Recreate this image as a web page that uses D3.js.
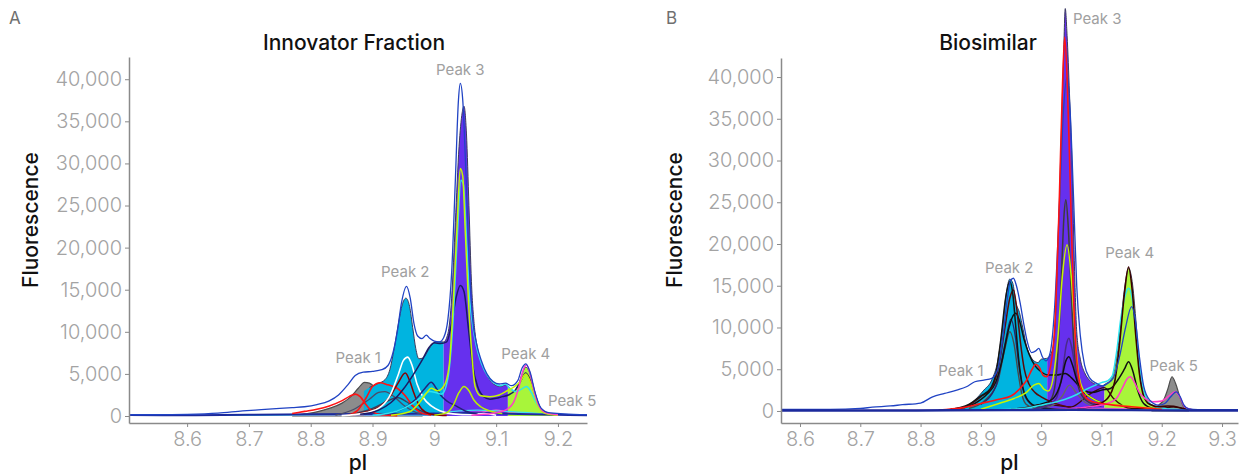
<!DOCTYPE html>
<html>
<head>
<meta charset="utf-8">
<script src="https://cdn.jsdelivr.net/npm/d3@7"></script>
<style>
  body { margin: 0; background: #fff; }
  svg { font-family: "Inter", "Roboto", sans-serif; }
</style>
</head>
<body>
<div id="chart"></div>
<script>
// ---- data: [pI, fluorescence] ----
const yTicks = [0, 5000, 10000, 15000, 20000, 25000, 30000, 35000, 40000];
const aXTicks = [8.6, 8.7, 8.8, 8.9, 9.0, 9.1, 9.2];
const bXTicks = [8.6, 8.7, 8.8, 8.9, 9.0, 9.1, 9.2, 9.3];
const peakNames = ["Peak 1", "Peak 2", "Peak 3", "Peak 4", "Peak 5"];
const aPeakPos = [[8.877, 6770], [8.953, 16990], [9.042, 40980], [9.148, 7250], [9.223, 1660]];
const bPeakPos = [[8.867, 4670], [8.947, 17000], [9.093, 46830], [9.147, 18800], [9.220, 5270]];

// panel A (innovator fraction)
const aFillMain = [[8.86,1200],[8.875,2200],[8.885,2900],[8.895,3400],[8.91,3900],[8.92,4300],[8.928,5500],[8.935,8000],[8.942,11000],[8.948,13200],[8.954,14000],[8.96,13000],[8.965,10500],[8.97,8000],[8.975,6800],[8.982,6900],[8.99,7800],[8.998,8600],[9.006,8800],[9.015,8800],[9.022,9800],[9.028,14000],[9.034,23000],[9.04,32000],[9.045,36000],[9.048,36800],[9.052,33500],[9.056,25000],[9.06,16000],[9.065,10500],[9.07,8000],[9.078,6000],[9.088,4500],[9.098,3700],[9.108,3500],[9.115,3700],[9.12,3500],[9.128,3000],[9.135,3500],[9.141,4800],[9.148,5800],[9.154,5200],[9.16,3600],[9.166,2000],[9.172,900],[9.18,350],[9.19,150],[9.2,80]];
const aFillGray = [[8.77,0],[8.79,250],[8.81,500],[8.83,900],[8.85,1500],[8.865,2300],[8.877,3300],[8.887,4000],[8.895,3900],[8.905,3300],[8.915,2500],[8.93,1500],[8.945,700],[8.96,250],[8.98,50]];
const aBlue = [[8.506,150],[8.55,150],[8.6,200],[8.65,350],[8.69,600],[8.72,750],[8.75,900],[8.77,1000],[8.79,1100],[8.81,1350],[8.83,1800],[8.845,2500],[8.86,3700],[8.872,4800],[8.885,5200],[8.9,5300],[8.915,5500],[8.925,6000],[8.933,7500],[8.94,10000],[8.947,13500],[8.955,15400],[8.961,14000],[8.967,11000],[8.973,9500],[8.98,9200],[8.987,9600],[8.993,9200],[9.0,8900],[9.008,8800],[9.015,9300],[9.022,11500],[9.028,17000],[9.034,28000],[9.039,37500],[9.042,39500],[9.046,37500],[9.051,29000],[9.056,19000],[9.062,11500],[9.068,8700],[9.076,6600],[9.085,5000],[9.095,4100],[9.105,3800],[9.115,3900],[9.125,3600],[9.135,4200],[9.142,5700],[9.148,6200],[9.155,5200],[9.163,2800],[9.172,1000],[9.185,400],[9.21,250],[9.247,150]];
const aWhite = [[8.85,50],[8.89,400],[8.915,1200],[8.93,2700],[8.942,5000],[8.95,6600],[8.957,7000],[8.964,6000],[8.972,3800],[8.982,2200],[8.995,1200],[9.01,600],[9.03,250],[9.06,150],[9.08,300],[9.1,100]];
const aDarkRed = [[8.86,100],[8.89,500],[8.915,1300],[8.93,2500],[8.942,4000],[8.953,5100],[8.96,4200],[8.967,2700],[8.975,1300],[8.985,500],[9.0,150],[9.02,50]];
const aRed1 = [[8.77,300],[8.79,550],[8.81,800],[8.83,1200],[8.85,1800],[8.862,2300],[8.872,2600],[8.88,2300],[8.89,1300],[8.9,500],[8.915,150],[8.94,50]];
const aRed2 = [[8.86,100],[8.875,600],[8.89,2200],[8.9,3500],[8.912,3950],[8.925,3700],[8.94,3300],[8.953,2400],[8.965,1200],[8.978,400],[8.995,100]];
const aSlate1 = [[8.84,100],[8.87,800],[8.895,2000],[8.91,2800],[8.92,2900],[8.935,2300],[8.95,1300],[8.965,600],[8.98,200]];
const aSlate2 = [[8.86,100],[8.9,900],[8.925,1800],[8.94,2200],[8.955,1700],[8.97,900],[8.99,300]];
const aNavy1 = [[8.88,200],[8.91,700],[8.93,1600],[8.95,3200],[8.965,4800],[8.98,6600],[8.992,8200],[9.0,8700],[9.01,8600],[9.02,8800],[9.028,11000],[9.035,14000],[9.042,15500],[9.048,14800],[9.055,10500],[9.062,6000],[9.07,3500],[9.08,2300],[9.09,2000],[9.1,2100],[9.11,2300],[9.12,2500],[9.13,3000],[9.14,4200],[9.148,5100],[9.155,4300],[9.163,2500],[9.172,900],[9.185,300],[9.2,150]];
const aNavy2 = [[8.92,200],[8.95,900],[8.97,2000],[8.985,3300],[8.995,4000],[9.003,3300],[9.01,2500],[9.02,1800],[9.035,1200],[9.05,600],[9.07,200]];
const aLime1 = [[8.93,100],[8.96,500],[8.975,1500],[8.988,2800],[8.995,3300],[9.005,3000],[9.015,3500],[9.024,6000],[9.031,14000],[9.037,23000],[9.042,29400],[9.046,28500],[9.05,22000],[9.055,14000],[9.06,8000],[9.066,3500],[9.075,2400],[9.09,2300],[9.105,2500],[9.118,3000],[9.128,3400],[9.138,4000],[9.148,5000],[9.158,3500],[9.168,1200],[9.18,300],[9.2,100]];
const aLime2 = [[9.0,100],[9.02,400],[9.03,1200],[9.04,2800],[9.048,3500],[9.056,3000],[9.064,1900],[9.075,1100],[9.09,600],[9.11,300]];
const aCyan = [[8.9,100],[8.94,600],[8.965,1500],[8.98,2300],[8.992,2900],[9.002,2800],[9.012,2600],[9.022,4500],[9.03,11000],[9.037,21000],[9.043,28000],[9.047,27500],[9.052,21000],[9.057,14000],[9.062,10800],[9.068,8300],[9.076,6300],[9.086,4800],[9.097,3900],[9.107,3600],[9.115,3800],[9.122,3300],[9.132,2900],[9.141,3200],[9.149,3500],[9.157,2800],[9.166,1400],[9.178,400],[9.2,100]];
const aMagenta = [[9.06,100],[9.08,200],[9.1,400],[9.115,700],[9.128,1600],[9.137,3500],[9.143,5300],[9.149,6100],[9.155,5000],[9.162,2800],[9.17,1100],[9.18,400],[9.2,150]];
const aBaseNavy = [[8.506,120],[8.6,100],[8.7,150],[8.8,200],[8.9,250],[9.0,300],[9.05,350],[9.1,300],[9.2,150],[9.247,100]];
const aBaseCyan = [[8.506,60],[8.7,80],[8.9,150],[9.0,300],[9.04,600],[9.07,700],[9.1,600],[9.13,500],[9.17,300],[9.247,80]];
const aBasePink = [[8.506,80],[8.8,100],[9.0,150],[9.05,400],[9.08,500],[9.1,700],[9.12,500],[9.16,300],[9.247,100]];

// panel B (biosimilar)
const bFillMain = [[8.86,100],[8.875,400],[8.89,1300],[8.905,2500],[8.918,3700],[8.928,6000],[8.936,10000],[8.942,14000],[8.948,15800],[8.953,15300],[8.958,13000],[8.964,11800],[8.97,9800],[8.976,7700],[8.982,6600],[8.988,6000],[8.995,5800],[9.0,6200],[9.009,6300],[9.016,6800],[9.022,9000],[9.028,20000],[9.033,32000],[9.037,42000],[9.04,48200],[9.043,45000],[9.047,38000],[9.051,30000],[9.055,18000],[9.059,9500],[9.065,6200],[9.072,4600],[9.08,3700],[9.09,3200],[9.1,3000],[9.108,3300],[9.115,3700],[9.122,5000],[9.13,9000],[9.138,14500],[9.145,17100],[9.151,15500],[9.157,11000],[9.163,5000],[9.17,2500],[9.178,1200],[9.188,500],[9.2,200]];
const bFillGray = [[9.185,0],[9.195,700],[9.203,1300],[9.21,2600],[9.217,4100],[9.223,3300],[9.23,1700],[9.237,400],[9.245,0]];
const bBlue = [[8.5685,200],[8.65,200],[8.7,300],[8.72,450],[8.75,600],[8.77,750],[8.8,950],[8.82,1700],[8.84,2100],[8.86,2500],[8.876,2900],[8.89,3500],[8.905,3700],[8.918,3900],[8.928,5000],[8.936,8500],[8.944,13500],[8.949,15600],[8.954,15900],[8.959,15000],[8.965,13000],[8.971,10500],[8.977,8300],[8.984,7000],[8.991,7200],[8.996,7500],[9.002,6500],[9.008,6000],[9.015,7000],[9.022,12000],[9.03,24000],[9.037,36000],[9.043,40000],[9.048,36000],[9.054,25000],[9.059,15000],[9.065,9000],[9.072,5500],[9.08,4000],[9.092,3300],[9.102,3000],[9.11,3300],[9.12,4000],[9.13,6500],[9.14,10000],[9.15,12500],[9.156,11000],[9.163,6500],[9.17,3000],[9.18,1300],[9.195,700],[9.205,900],[9.215,1700],[9.224,2300],[9.23,1800],[9.236,800],[9.245,250],[9.26,150],[9.3265,150]];
const bRed = [[8.83,100],[8.87,400],[8.9,900],[8.93,1400],[8.95,1800],[8.965,2700],[8.976,3700],[8.985,5000],[8.991,5600],[8.997,5200],[9.003,4300],[9.009,4100],[9.016,5500],[9.024,12000],[9.03,25000],[9.035,38000],[9.039,44800],[9.043,40000],[9.048,28000],[9.053,15000],[9.058,7000],[9.064,3300],[9.072,1800],[9.085,1100],[9.1,900],[9.12,700],[9.15,500],[9.2,200]];
const bLime = [[8.9,200],[8.93,900],[8.955,1500],[8.975,2200],[8.988,3100],[8.996,3300],[9.005,2600],[9.012,2400],[9.02,4000],[9.028,9000],[9.035,16000],[9.043,19900],[9.05,16000],[9.056,9500],[9.062,4500],[9.07,2500],[9.085,1500],[9.1,1000],[9.13,700],[9.16,500],[9.2,200]];
const bCyan = [[8.9,100],[8.95,200],[8.98,400],[9.0,700],[9.02,1000],[9.04,1400],[9.06,2000],[9.075,2600],[9.09,3100],[9.1,3400],[9.11,3600],[9.118,4200],[9.125,7000],[9.133,11500],[9.14,14000],[9.145,14700],[9.151,13500],[9.158,9000],[9.165,4500],[9.172,2000],[9.182,800],[9.195,400],[9.22,200],[9.26,100]];
const bMagenta = [[9.0,100],[9.05,300],[9.09,600],[9.11,900],[9.125,1500],[9.135,2800],[9.143,3900],[9.148,4100],[9.155,3400],[9.163,2200],[9.172,1500],[9.185,1100],[9.2,1200],[9.212,1800],[9.222,2300],[9.23,1700],[9.238,500],[9.25,150]];
const bBlack1 = [[8.85,200],[8.88,800],[8.9,1800],[8.915,2600],[8.925,4500],[8.933,8500],[8.941,13500],[8.948,15500],[8.953,14000],[8.958,10000],[8.963,6000],[8.969,3000],[8.976,1500],[8.99,600],[9.01,300],[9.04,200]];
const bBrown1 = [[8.85,200],[8.88,700],[8.9,1700],[8.918,2800],[8.93,5500],[8.94,10000],[8.948,13500],[8.954,14500],[8.96,12000],[8.966,8000],[8.972,5000],[8.98,3200],[8.99,2200],[9.0,1700],[9.02,1000],[9.05,400]];
const bBlack2 = [[8.86,200],[8.89,900],[8.91,2000],[8.925,3500],[8.935,6000],[8.945,9500],[8.952,11200],[8.958,11700],[8.964,10800],[8.972,8500],[8.98,6800],[8.99,5400],[9.0,4700],[9.012,4300],[9.025,4300],[9.04,4500],[9.05,4000],[9.06,3200],[9.07,2300],[9.085,1500],[9.1,1000]];
const bGray1 = [[8.88,300],[8.91,1500],[8.928,3500],[8.94,7500],[8.948,9500],[8.955,8000],[8.962,4500],[8.968,2000],[8.975,800],[8.99,300]];
const bNavy1 = [[8.9,800],[8.925,3000],[8.94,8000],[8.95,11000],[8.957,9000],[8.964,5000],[8.972,2000],[8.985,700]];
const bGray3 = [[8.99,300],[9.01,800],[9.02,2000],[9.027,6000],[9.033,15000],[9.038,23500],[9.041,25300],[9.045,22000],[9.05,14000],[9.055,7000],[9.06,3500],[9.068,1800],[9.08,1000],[9.1,600]];
const bPurple3 = [[8.99,300],[9.01,600],[9.025,1500],[9.035,4500],[9.042,8000],[9.046,8700],[9.051,7500],[9.058,4500],[9.065,2600],[9.075,1500],[9.09,800]];
const bBlack3 = [[8.98,400],[9.0,800],[9.02,1500],[9.033,3500],[9.041,6000],[9.046,6500],[9.052,5500],[9.06,3500],[9.07,2500],[9.085,2200],[9.1,2500],[9.115,2700],[9.128,3800],[9.138,5000],[9.145,5900],[9.152,4800],[9.16,2500],[9.17,900],[9.185,300]];
const bGray4 = [[9.0,300],[9.02,700],[9.035,1800],[9.047,3100],[9.058,2200],[9.07,1200],[9.09,500]];
const bBrown4 = [[9.06,300],[9.09,700],[9.11,1500],[9.122,3500],[9.13,8000],[9.138,14000],[9.145,17250],[9.151,14500],[9.157,9000],[9.163,4500],[9.17,1800],[9.18,800],[9.195,500],[9.21,600],[9.22,550],[9.235,300],[9.25,150]];
const bDarkLow = [[8.95,200],[8.98,500],[9.0,800],[9.02,700],[9.05,500],[9.08,2000],[9.095,2600],[9.105,2800],[9.12,1500],[9.15,300],[9.2,300],[9.22,500],[9.24,200]];
const bBaseNavy = [[8.5685,50],[8.7,50],[8.85,80],[8.95,100],[9.05,150],[9.15,100],[9.25,50],[9.3265,50]];
const bBasePink = [[8.5685,60],[8.8,80],[9.0,200],[9.1,300],[9.2,200],[9.3265,60]];

// ---- drawing ----
const W = 1248, H = 474;
const svg = d3.select("#chart").append("svg")
  .attr("width", W).attr("height", H);

const CYAN = "#00b4e0", PURPLE = "#6630ee", LIME = "#a8f53a", GRAY = "#8c8c8c";

function drawPanel(p) {
  const x = d3.scaleLinear().domain(p.xDomain).range(p.xRange);
  const y = d3.scaleLinear().domain(p.yDomain).range(p.yRange);
  const g = svg.append("g");

  const line = d3.line().x(d => x(d[0])).y(d => y(d[1])).curve(d3.curveMonotoneX);
  const area = d3.area().x(d => x(d[0])).y0(y(0)).y1(d => y(d[1])).curve(d3.curveMonotoneX);

  // gray peak sits behind the main fill in panel A, in front in B
  const drawGray = () => g.append("path").datum(p.grayFill).attr("d", area)
    .style("fill", GRAY).style("stroke", "#4d4d4d").style("stroke-width", 1.2);
  if (p.grayBehind) drawGray();

  // segmented fill
  p.segments.forEach((s, i) => {
    const id = p.id + "seg" + i;
    svg.append("clipPath").attr("id", id).append("rect")
      .attr("x", x(s[0])).attr("width", x(s[1]) - x(s[0]))
      .attr("y", 0).attr("height", H);
    g.append("path").datum(p.fill)
      .attr("d", area)
      .attr("clip-path", "url(#" + id + ")")
      .style("fill", s[2]);
  });
  g.append("path").datum(p.fill.filter(d => d[0] >= p.segments[0][0])).attr("d", line)
    .style("fill", "none").style("stroke", "#3b3b5e").style("stroke-width", 1);

  if (!p.grayBehind) drawGray();

  p.lines.forEach(l => {
    g.append("path").datum(l[0]).attr("d", line)
      .style("fill", "none").style("stroke", l[1]).style("stroke-width", l[2] || 1.3)
      .style("stroke-linejoin", "round");
  });

  // axes
  const yAxis = g.append("g")
    .attr("transform", "translate(" + p.xRange[0] + ",0)")
    .call(d3.axisLeft(y).tickValues(yTicks).tickSize(4).tickSizeOuter(0).tickPadding(3)
      .tickFormat(d3.format(",")));
  const xAxis = g.append("g")
    .attr("transform", "translate(0," + p.yRange[0] + ")")
    .call(d3.axisBottom(x).tickValues(p.xTicks).tickSize(4).tickSizeOuter(0).tickPadding(5)
      .tickFormat(d => String(+d.toFixed(1))));
  [yAxis, xAxis].forEach(a => {
    a.select(".domain").style("stroke", "#8a8a8a").style("stroke-width", 1.5);
    a.selectAll(".tick line").style("stroke", "#8a8a8a");
    a.selectAll("text").style("fill", "#a3a3a3").style("font-size", "20px")
      .style("font-family", "Inter, Roboto, sans-serif").style("font-weight", 300);
  });

  // peak labels
  g.selectAll(".peak").data(p.peaks).enter().append("text")
    .attr("x", d => x(d[0])).attr("y", d => y(d[1]))
    .attr("text-anchor", "middle").attr("dominant-baseline", "middle")
    .style("fill", "#a0a0a0").style("font-size", "15px")
    .text((d, i) => peakNames[i]);

  const cx = (p.xRange[0] + p.xRange[1]) / 2;
  g.append("text").attr("x", p.titleX).attr("y", 50).attr("text-anchor", "middle")
    .style("font-size", "21px").style("font-weight", 500).style("fill", "#111")
    .text(p.title);
  g.append("text").attr("x", cx).attr("y", 470).attr("text-anchor", "middle")
    .style("font-size", "21px").style("font-weight", 500).style("fill", "#111")
    .text("pI");
  g.append("text").attr("transform", "translate(" + p.yLabX + ",220) rotate(-90)")
    .attr("text-anchor", "middle").attr("dominant-baseline", "middle")
    .style("font-size", "21px").style("font-weight", 500).style("fill", "#111")
    .text("Fluorescence");
  g.append("text").attr("x", p.letterX).attr("y", 24)
    .style("font-size", "17px").style("fill", "#6f6f6f").text(p.letter);
}

drawPanel({
  id: "a", letter: "A", letterX: 9, title: "Innovator Fraction", titleX: 354, yLabX: 32,
  xDomain: [8.506, 9.247], xRange: [129, 587],
  yDomain: [-830, 42640], yRange: [423, 57],
  xTicks: aXTicks, peaks: aPeakPos,
  fill: aFillMain, grayFill: aFillGray, grayBehind: true,
  segments: [[8.886, 9.015, CYAN], [9.015, 9.119, PURPLE], [9.119, 9.25, LIME]],
  lines: [
    [aBasePink, "#ff5fd0", 1.2], [aBaseCyan, "#3fe0ee", 1.2], [aBaseNavy, "#1c2a9c", 2],
    [aSlate1, "#4b4b68"], [aSlate2, "#3d3d5a"], [aRed1, "#ff1414", 1.6], [aRed2, "#ff1414", 1.6],
    [aDarkRed, "#8b0000", 1.5], [aWhite, "#ffffff", 1.6], [aNavy2, "#23237a", 1.5],
    [aNavy1, "#1b1b66", 1.5], [aLime2, "#b8f000", 1.5], [aCyan, "#2de4f0", 1.5],
    [aLime1, "#c6f500", 1.5], [aMagenta, "#ff3cc8", 1.5], [aBlue, "#2043c4", 1.3]
  ]
});

drawPanel({
  id: "b", letter: "B", letterX: 666, title: "Biosimilar", titleX: 988, yLabX: 676,
  xDomain: [8.5685, 9.3265], xRange: [781, 1238],
  yDomain: [-1440, 42280], yRange: [423, 58],
  xTicks: bXTicks, peaks: bPeakPos,
  fill: bFillMain, grayFill: bFillGray, grayBehind: false,
  segments: [[8.8, 9.01, CYAN], [9.01, 9.105, PURPLE], [9.105, 9.25, LIME]],
  lines: [
    [bBasePink, "#ff5fd0", 1.2], [bDarkLow, "#3a0a0a", 1.3], [bGray4, "#666666", 1.4],
    [bGray1, "#4a4a4a", 1.4], [bNavy1, "#26266e", 1.4], [bBlack2, "#111111", 1.5],
    [bBrown1, "#5a0a0a", 1.5], [bBlack1, "#151515", 1.5], [bGray3, "#3c3c3c", 1.5],
    [bPurple3, "#4a2a8a", 1.5], [bBlack3, "#111111", 1.5], [bLime, "#c6f500", 1.5],
    [bCyan, "#2de4f0", 1.5], [bBrown4, "#3a0000", 1.6], [bMagenta, "#ff3cc8", 1.5],
    [bBlue, "#2043c4", 1.3], [bRed, "#ff1414", 1.6], [bBaseNavy, "#1c2a9c", 2.4]
  ]
});
</script>
</body>
</html>
